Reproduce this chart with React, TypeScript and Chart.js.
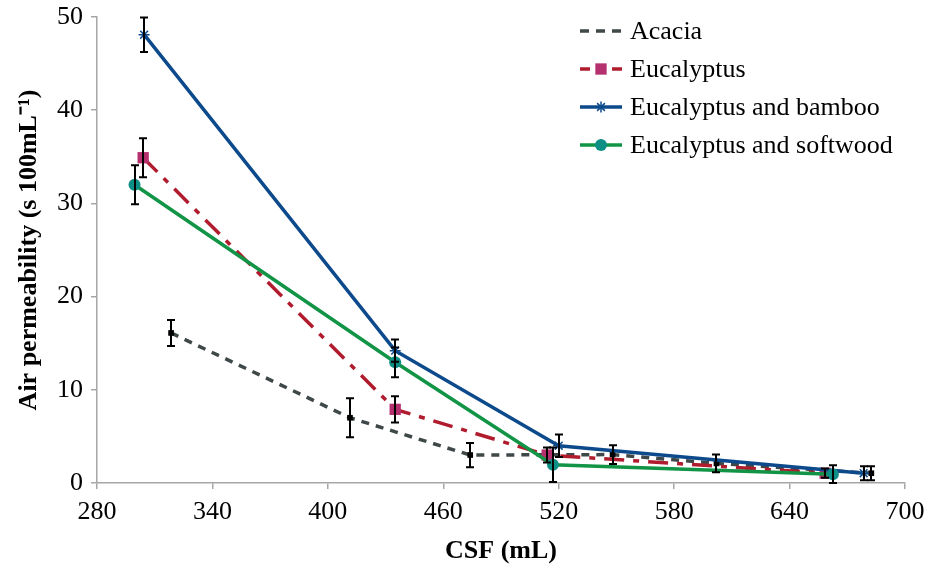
import React, { useEffect, useRef } from "react";
import { Chart, registerables } from "chart.js";

Chart.register(...registerables);

const seriesNames = ["Acacia", "Eucalyptus", "Eucalyptus and bamboo", "Eucalyptus and softwood"];

const acaciaX = [318.5, 411.5, 474, 548, 602, 682.5];
const acaciaY = [16.1, 7.0, 3.0, 3.05, 2.1, 1.05];
const acaciaErr = [1.4, 2.1, 1.3, 1.0, 0.95, 0.75];

const eucX = [304, 435, 514, 658.5];
const eucY = [34.9, 7.9, 3.0, 1.05];
const eucErr = [2.1, 1.4, 0.8, 0.5];

const bambooX = [304.5, 435, 520, 678.5];
const bambooY = [48.1, 14.2, 4.0, 1.05];
const bambooErr = [1.85, 1.2, 1.2, 0.75];

const softX = [299.5, 435, 517, 662.5];
const softY = [32.0, 12.95, 1.95, 0.95];
const softErr = [2.1, 1.6, 1.85, 0.95];

const xTicks = [280, 340, 400, 460, 520, 580, 640, 700];
const yTicks = [0, 10, 20, 30, 40, 50];

const FONT = "'Liberation Serif', 'Times New Roman', serif";

function pts(xs: number[], ys: number[]) {
  return xs.map((x, i) => ({ x, y: ys[i] }));
}

function drawMarker(ctx: CanvasRenderingContext2D, style: string, x: number, y: number, r: number, fill: string, stroke: string) {
  ctx.save();
  ctx.setLineDash([]);
  ctx.fillStyle = fill;
  ctx.strokeStyle = stroke;
  if (style === "rect") {
    const s = Math.SQRT1_2 * r;
    ctx.fillRect(x - s, y - s, 2 * s, 2 * s);
  } else if (style === "circle") {
    ctx.beginPath();
    ctx.arc(x, y, r, 0, Math.PI * 2);
    ctx.fill();
  } else if (style === "star") {
    ctx.lineWidth = 1.5;
    ctx.beginPath();
    for (let k = 0; k < 4; k++) {
      const a = (k * Math.PI) / 4;
      ctx.moveTo(x - r * Math.cos(a), y - r * Math.sin(a));
      ctx.lineTo(x + r * Math.cos(a), y + r * Math.sin(a));
    }
    ctx.stroke();
  }
  ctx.restore();
}

const errorBarPlugin = {
  id: "errorBars",
  afterDatasetsDraw(chart: any) {
    const ctx = chart.ctx;
    const xs = chart.scales.x;
    const ys = chart.scales.y;
    ctx.save();
    ctx.strokeStyle = "#000";
    ctx.lineWidth = 2;
    ctx.setLineDash([]);
    chart.data.datasets.forEach((ds: any) => {
      const errs: number[] = ds.errors || [];
      ds.data.forEach((p: any, i: number) => {
        const e = errs[i];
        if (e == null) return;
        const px = Math.round(xs.getPixelForValue(p.x));
        const y1 = ys.getPixelForValue(p.y + e);
        const y2 = ys.getPixelForValue(Math.max(0, p.y - e));
        ctx.beginPath();
        ctx.moveTo(px, y1);
        ctx.lineTo(px, y2);
        ctx.moveTo(px - 4, y1);
        ctx.lineTo(px + 4, y1);
        ctx.moveTo(px - 4, y2);
        ctx.lineTo(px + 4, y2);
        ctx.stroke();
      });
    });
    ctx.restore();
  },
};

const legendPlugin = {
  id: "customLegend",
  afterDraw(chart: any) {
    const ctx = chart.ctx;
    const x0 = 580;
    const x1 = 622;
    const tx = 630;
    const rowY = [31, 69, 107, 145];
    ctx.save();
    chart.data.datasets.forEach((ds: any, i: number) => {
      const y = rowY[i];
      ctx.beginPath();
      ctx.strokeStyle = ds.borderColor;
      ctx.lineWidth = ds.borderWidth;
      ctx.setLineDash(ds.legendDash || []);
      ctx.moveTo(x0, y);
      ctx.lineTo(x1, y);
      ctx.stroke();
      if (ds.legendMarker) {
        drawMarker(ctx, ds.pointStyle, (x0 + x1) / 2, y, ds.pointRadius, ds.pointBackgroundColor, ds.pointBorderColor);
      }
      ctx.setLineDash([]);
      ctx.fillStyle = "#000";
      ctx.font = `26px ${FONT}`;
      ctx.textBaseline = "middle";
      ctx.textAlign = "left";
      ctx.fillText(ds.label, tx, y + 1);
    });
    ctx.restore();
  },
};

export default function App() {
  const ref = useRef<HTMLCanvasElement | null>(null);
  useEffect(() => {
    if (!ref.current) return;
    const chart = new Chart(ref.current, {
      type: "line",
      data: {
        datasets: [
          {
            label: seriesNames[0],
            data: pts(acaciaX, acaciaY),
            errors: acaciaErr,
            borderColor: "#3f4848",
            borderWidth: 3.5,
            borderDash: [8, 7],
            legendDash: [9, 7],
            pointStyle: "rect",
            pointRadius: 4,
            pointBackgroundColor: "#000",
            pointBorderColor: "#000",
            pointBorderWidth: 0,
            legendMarker: false,
            order: 4,
          },
          {
            label: seriesNames[1],
            data: pts(eucX, eucY),
            errors: eucErr,
            borderColor: "#b01c2e",
            borderWidth: 3.5,
            borderDash: [20, 9, 6, 9],
            legendDash: [10, 6],
            pointStyle: "rect",
            pointRadius: 8,
            pointBackgroundColor: "#b5306e",
            pointBorderColor: "#b5306e",
            pointBorderWidth: 0,
            legendMarker: true,
            order: 3,
          },
          {
            label: seriesNames[2],
            data: pts(bambooX, bambooY),
            errors: bambooErr,
            borderColor: "#0c4a8c",
            borderWidth: 3.5,
            pointStyle: "star",
            pointRadius: 5.5,
            pointBackgroundColor: "#0c4a8c",
            pointBorderColor: "#0c4a8c",
            pointBorderWidth: 1.5,
            legendMarker: true,
            order: 2,
          },
          {
            label: seriesNames[3],
            data: pts(softX, softY),
            errors: softErr,
            borderColor: "#119446",
            borderWidth: 3.5,
            pointStyle: "circle",
            pointRadius: 6,
            pointBackgroundColor: "#0e8f86",
            pointBorderColor: "#0e8f86",
            pointBorderWidth: 0,
            legendMarker: true,
            order: 1,
          },
        ] as any,
      },
      options: {
        animation: false,
        responsive: true,
        maintainAspectRatio: false,
        layout: { padding: { top: 17, right: 24, left: 0, bottom: 0 } },
        plugins: { legend: { display: false }, tooltip: { enabled: false } },
        scales: {
          x: {
            type: "linear",
            min: 280,
            max: 700,
            afterBuildTicks: (s: any) => {
              s.ticks = xTicks.map((v) => ({ value: v }));
            },
            afterFit: (s: any) => {
              s.height = 86;
              s.paddingLeft = 0;
              s.paddingRight = 0;
            },
            ticks: {
              color: "#000",
              font: { family: FONT, size: 26 },
              padding: 8,
              maxRotation: 0,
              autoSkip: false,
            },
            grid: { drawOnChartArea: false, drawTicks: true, tickLength: 6, color: "#a6a6a6", lineWidth: 1.5 },
            border: { color: "#a6a6a6", width: 1.5 },
            title: {
              display: true,
              text: "CSF (mL)",
              color: "#000",
              font: { family: FONT, size: 26, weight: "bold" },
              padding: { top: 0, bottom: 2 },
            },
          },
          y: {
            type: "linear",
            min: 0,
            max: 50,
            afterBuildTicks: (s: any) => {
              s.ticks = yTicks.map((v) => ({ value: v }));
            },
            afterFit: (s: any) => {
              s.width = 97;
              s.paddingTop = 0;
              s.paddingBottom = 0;
            },
            ticks: {
              color: "#000",
              font: { family: FONT, size: 26 },
              padding: 8,
            },
            grid: { drawOnChartArea: false, drawTicks: true, tickLength: 6, color: "#a6a6a6", lineWidth: 1.5 },
            border: { color: "#a6a6a6", width: 1.5 },
            title: {
              display: true,
              text: "Air permeability (s 100mL\u207B\u00B9)",
              color: "#000",
              font: { family: FONT, size: 26, weight: "bold" },
              padding: { top: 14, bottom: 0 },
            },
          },
        },
      } as any,
      plugins: [errorBarPlugin, legendPlugin],
    });
    return () => chart.destroy();
  }, []);
  return (
    <div style={{ position: "fixed", left: 0, top: 0, width: 929, height: 569, background: "#fff" }}>
      <canvas ref={ref} />
    </div>
  );
}
